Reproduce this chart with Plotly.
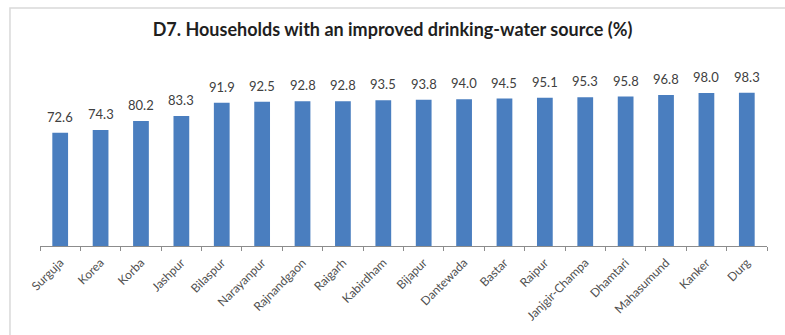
import plotly.graph_objects as go

districts = ["Surguja", "Korea", "Korba", "Jashpur", "Bilaspur", "Narayanpur",
             "Rajnandgaon", "Raigarh", "Kabirdham", "Bijapur", "Dantewada",
             "Bastar", "Raipur", "Janjgir-Champa", "Dhamtari", "Mahasumund",
             "Kanker", "Durg"]
improved_pct = [72.6, 74.3, 80.2, 83.3, 91.9, 92.5, 92.8, 92.8, 93.5, 93.8,
                94.0, 94.5, 95.1, 95.3, 95.8, 96.8, 98.0, 98.3]

title_text = "D7. Households with an improved drinking-water source (%)"
font_family = "Lato, Open Sans, sans-serif"

fig = go.Figure(go.Bar(
    x=districts,
    y=improved_pct,
    marker=dict(color="#4A7EBF", line=dict(width=0)),
    cliponaxis=False,
))

# Value labels sitting a little above each bar
for name, val in zip(districts, improved_pct):
    fig.add_annotation(x=name, y=val, text=f"{val:.1f}", showarrow=False,
                       yanchor="bottom", yshift=6,
                       font=dict(family=font_family, size=13, color="#404040"))

# Light grey chart frame around everything
fig.add_shape(type="rect", xref="paper", yref="paper",
              x0=-0.0413, x1=1.04, y0=-0.6, y1=1.525,
              line=dict(color="#D9D9D9", width=1.5), fillcolor="rgba(0,0,0,0)",
              layer="below")

fig.update_layout(
    width=785, height=335,
    margin=dict(l=40, r=18, t=90, b=87),
    paper_bgcolor="white", plot_bgcolor="white",
    bargap=0.61,
    showlegend=False,
    title=dict(text=f"<b>{title_text}</b>", x=0.5, xanchor="center",
               y=1 - 30 / 335, yanchor="middle",
               font=dict(family=font_family, size=18, color="#1F1F1F")),
    xaxis=dict(
        showline=True, linecolor="#8C8C8C", linewidth=1,
        ticks="outside", ticklen=4, tickcolor="#8C8C8C",
        tickson="boundaries",
        tickangle=-45,
        ticklabelstandoff=4,
        tickfont=dict(family=font_family, size=12, color="#505050"),
        showgrid=False, zeroline=False,
    ),
    yaxis=dict(range=[0, 100], visible=False, showgrid=False, zeroline=False),
)

fig.write_html("out.html")
